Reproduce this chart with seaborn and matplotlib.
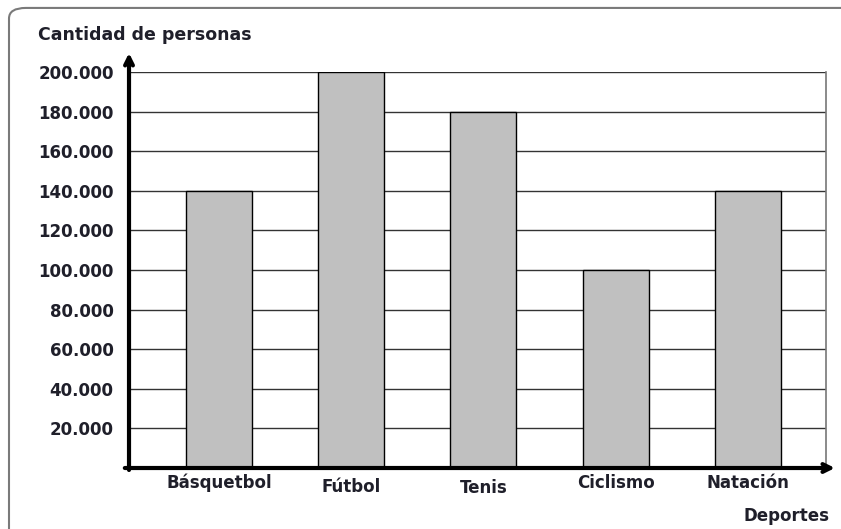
import pandas as pd
import seaborn as sns
import matplotlib
matplotlib.use("Agg")
from matplotlib import pyplot as plt
from matplotlib.patches import FancyBboxPatch
from matplotlib.transforms import ScaledTranslation

# data
deportes = ["Básquetbol", "Fútbol", "Tenis", "Ciclismo", "Natación"]
personas = [140000, 200000, 180000, 100000, 140000]
yticks = [20000, 40000, 60000, 80000, 100000, 120000, 140000, 160000, 180000, 200000]
ytick_labels = ["20.000", "40.000", "60.000", "80.000", "100.000",
                "120.000", "140.000", "160.000", "180.000", "200.000"]

df = pd.DataFrame({"Deporte": deportes, "Personas": personas})

sns.set_style("white")
plt.rcParams["font.family"] = ["DejaVu Sans"]
txt_color = "#1f1f2a"

fig = plt.figure(figsize=(8.41, 5.29), dpi=100)
ax = fig.add_axes([0.1534, 0.1153, 0.982 - 0.1534, 0.8639 - 0.1153])

# outer rounded frame (runs off the right and bottom edges like the original)
frame = FancyBboxPatch((0.0107, -0.03), 1.1, 1.015, transform=fig.transFigure,
                       boxstyle="round,pad=0,rounding_size=0.02",
                       facecolor="none", edgecolor="#7a7a7a", linewidth=1.5)
fig.patches.append(frame)

# horizontal grid lines
for v in yticks:
    ax.axhline(v, color="#333333", linewidth=1, zorder=1)

sns.barplot(data=df, x="Deporte", y="Personas", color="#c0c0c0", width=0.5,
            edgecolor="black", linewidth=1, saturation=1, ax=ax, zorder=2)

ax.set_xlim(-0.68, 4.59)
ax.set_ylim(0, 200000)
ax.set_yticks(yticks)
ax.set_yticklabels(ytick_labels, fontweight="bold", fontsize=12, color=txt_color)
ax.set_xticks(range(len(deportes)))
ax.set_xticklabels(deportes, fontweight="bold", fontsize=12, color=txt_color)
ax.tick_params(axis="x", length=0, pad=4)
ax.tick_params(axis="y", length=0, pad=11)
ax.set_xlabel("")
ax.set_ylabel("")

# the original labels sit at slightly uneven heights
shifts = [0, -4, -5, 0, 0]
for lab, dy in zip(ax.get_xticklabels(), shifts):
    lab.set_transform(lab.get_transform() + ScaledTranslation(0, dy / 100, fig.dpi_scale_trans))

for s in ["top", "left", "bottom"]:
    ax.spines[s].set_visible(False)
ax.spines["right"].set_color("#777777")
ax.spines["right"].set_linewidth(1.2)

# axes with arrows
ax.annotate("", xy=(1.017, 0), xytext=(-0.01, 0), xycoords="axes fraction",
            arrowprops=dict(arrowstyle="->", lw=3, color="black",
                            mutation_scale=14), annotation_clip=False)
ax.annotate("", xy=(0, 1.055), xytext=(0, -0.012), xycoords="axes fraction",
            arrowprops=dict(arrowstyle="->", lw=3, color="black",
                            mutation_scale=14), annotation_clip=False)

fig.text(0.045, 0.934, "Cantidad de personas", fontsize=12.5, fontweight="bold",
         color=txt_color, va="center")
fig.text(0.986, 0.024, "Deportes", fontsize=12, fontweight="bold",
         color=txt_color, ha="right", va="center")

fig.savefig("out.png", dpi=100)
